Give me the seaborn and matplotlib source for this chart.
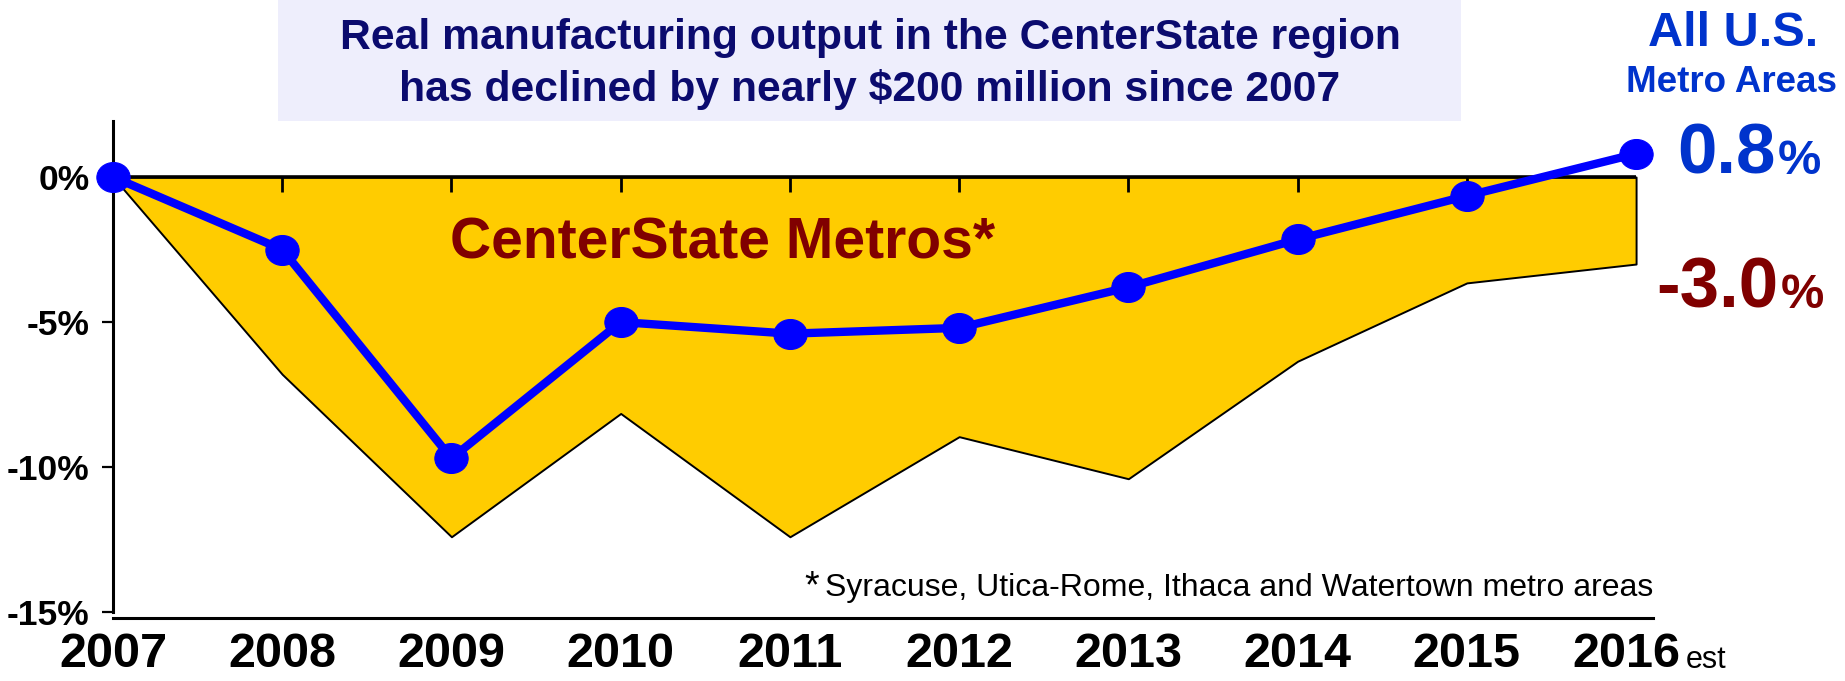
import matplotlib
matplotlib.use("Agg")
import matplotlib.pyplot as plt
import matplotlib.patches as mpatches
from matplotlib.path import Path
from matplotlib.transforms import ScaledTranslation
import numpy as np
import pandas as pd
import seaborn as sns

# data (% change since 2007)
years = [2007, 2008, 2009, 2010, 2011, 2012, 2013, 2014, 2015, 2016]
us_metros = [0.0, -2.5, -9.7, -5.0, -5.4, -5.2, -3.8, -2.15, -0.65, 0.8]
centerstate = [0.0, -6.8, -12.4, -8.15, -12.4, -8.95, -10.4, -6.35, -3.65, -3.0]
year_labels = ["2007", "2008", "2009", "2010", "2011", "2012", "2013", "2014", "2015", "2016"]
ytick_vals = [0, -5, -10, -15]
ytick_labels = ["0%", "-5%", "-10%", "-15%"]

title_lines = ["Real manufacturing output in the CenterState region",
               r"has declined by nearly \$200 million since 2007"]
us_label = ["All U.S.", "Metro Areas"]
region_label = "CenterState Metros*"
footnote = "Syracuse, Utica-Rome, Ithaca and Watertown metro areas"

df = pd.DataFrame({"year": years, "us": us_metros, "cs": centerstate})

sns.set_style("white")
plt.rcParams["font.family"] = ["Liberation Sans", "DejaVu Sans"]

W, H = 1845, 681
fig = plt.figure(figsize=(W / 100, H / 100), dpi=100)


def fx(x):
    return x / W


def fy(y):
    return 1 - y / H


ax = fig.add_axes([fx(113), fy(618), fx(1653) - fx(113), fy(121) - fy(618)])

# title box
fig.patches.append(mpatches.Rectangle((fx(278), fy(121)), fx(1461) - fx(278), fy(0) - fy(121),
                                      transform=fig.transFigure, facecolor="#EEEEFC",
                                      edgecolor="none", zorder=0))
fig.text(fx(870), fy(38), title_lines[0], ha="center", va="center", fontsize=30.7,
         fontweight="bold", color="#0B0B6E")
fig.text(fx(870), fy(89), title_lines[1], ha="center", va="center", fontsize=30.7,
         fontweight="bold", color="#0B0B6E")

# CenterState band
ax.fill_between(df["year"], df["cs"], 0, facecolor="#FFCC00", edgecolor="black",
                linewidth=1.4, zorder=2)
ax.hlines(0, years[0], years[-1], color="black", linewidth=2.6, zorder=3)
ax.vlines(years[1:-1], -0.5, 0, color="black", linewidth=2, zorder=3)

# US metros line
circ = Path.unit_circle()
ellipse = Path(circ.vertices * [1.0, 0.9], circ.codes)
sns.lineplot(data=df, x="year", y="us", ax=ax, color="#0000FF", linewidth=6,
             marker=ellipse, markersize=24, markeredgecolor="#0000FF",
             markerfacecolor="#0000FF", clip_on=False, zorder=5)

ax.set_xlim(2007, 2016.1)
ax.set_ylim(-15.2, 1.93)
ax.set_xticks(years, year_labels)
ax.set_yticks(ytick_vals, ytick_labels)
ax.set_xlabel("")
ax.set_ylabel("")
for lab in ax.get_xticklabels():
    lab.set_fontweight("bold")
for lab in ax.get_yticklabels():
    lab.set_fontweight("bold")
ax.tick_params(axis="x", length=0, pad=10, labelsize=35, colors="black")
ax.tick_params(axis="y", length=8, width=1.6, pad=9, labelsize=25.5, colors="black", left=True)
# "2016 est" label sits a little left of its tick
last = ax.get_xticklabels()[-1]
last.set_transform(last.get_transform() + ScaledTranslation(-0.10, 0, fig.dpi_scale_trans))
for s in ["top", "right"]:
    ax.spines[s].set_visible(False)
ax.spines["left"].set_bounds(-15, 1.93)
ax.spines["left"].set_linewidth(2.2)
ax.spines["bottom"].set_linewidth(2.2)
ax.spines["left"].set_color("black")
ax.spines["bottom"].set_color("black")
ax.grid(False)

ax.text(2010.6, -2.82, region_label, ha="center", va="baseline", fontsize=41,
        fontweight="bold", color="#800000", zorder=6)

# footnote
fn = ax.text(2016.1, -14.45, footnote, ha="right", va="baseline", fontsize=23, color="black")
ax.annotate("*", xy=(0, 1), xycoords=fn, xytext=(-4, 3), textcoords="offset points",
            ha="right", va="top", fontsize=27, color="black")

# right-hand labels
fig.text(fx(1733), fy(33), us_label[0], ha="center", va="center", fontsize=35,
         fontweight="bold", color="#0033CC")
fig.text(fx(1732), fy(83), us_label[1], ha="center", va="center", fontsize=26.5,
         fontweight="bold", color="#0033CC")
t_us = fig.text(fx(1677), fy(174), f"{us_metros[-1]:.1f}", ha="left", va="baseline",
                fontsize=51, fontweight="bold", color="#0033CC")
ax.annotate("%", xy=(1, 0), xycoords=t_us, xytext=(2, 3.5), textcoords="offset points",
            ha="left", va="bottom", fontsize=35, fontweight="bold", color="#0033CC")
t_cs = fig.text(fx(1656), fy(308), f"{centerstate[-1]:.1f}", ha="left", va="baseline",
                fontsize=51, fontweight="bold", color="#800000")
ax.annotate("%", xy=(1, 0), xycoords=t_cs, xytext=(2, 3.5), textcoords="offset points",
            ha="left", va="bottom", fontsize=35, fontweight="bold", color="#800000")

# "est" after 2016
fig.text(fx(1686), fy(668), "est", ha="left", va="baseline", fontsize=22, color="black")

fig.savefig("out.png", dpi=100)
